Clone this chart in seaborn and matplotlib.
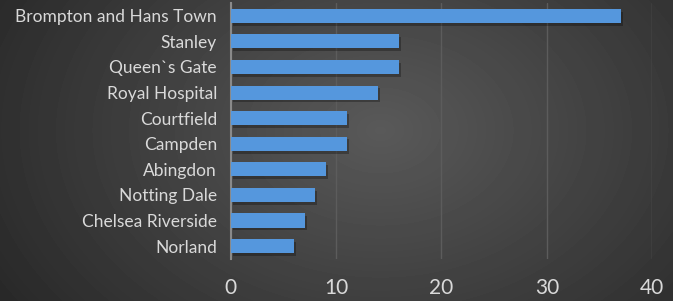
import numpy as np
import pandas as pd
import matplotlib
matplotlib.use("Agg")
import matplotlib.pyplot as plt
import matplotlib.patheffects as pe
import seaborn as sns

# Data
wards = ['Brompton and Hans Town', 'Stanley', 'Queen`s Gate', 'Royal Hospital',
         'Courtfield', 'Campden', 'Abingdon', 'Notting Dale', 'Chelsea Riverside', 'Norland']
counts = [37, 16, 16, 14, 11, 11, 9, 8, 7, 6]
x_ticks = [0, 10, 20, 30, 40]

data = pd.DataFrame({'Ward': wards, 'Count': counts})

sns.set_style("white")
plt.rcParams['font.family'] = ['Lato', 'DejaVu Sans']

fig = plt.figure(figsize=(6.73, 3.01), dpi=100)

# radial gradient background
bg = fig.add_axes([0, 0, 1, 1], zorder=0)
yy, xx = np.mgrid[0:301, 0:673]
r = np.sqrt(((xx - 380) / 420.0) ** 2 + ((yy - 130) / 300.0) ** 2)
shade = np.clip(0.35 - 0.18 * r, 0.15, 0.35)
bg.imshow(shade, cmap='gray', vmin=0, vmax=1, aspect='auto', extent=[0, 1, 0, 1])
bg.axis('off')

ax = fig.add_axes([0.343, 0.14, 0.626, 0.85], zorder=1)
ax.patch.set_alpha(0)

sns.barplot(x='Count', y='Ward', data=data, color='#5597dd', width=0.55,
            saturation=1, linewidth=0, edgecolor='none', ax=ax, zorder=3)
for p in ax.patches:
    p.set_linewidth(0)
    p.set_path_effects([pe.SimplePatchShadow(offset=(1.5, -2), shadow_rgbFace='black', alpha=0.28),
                        pe.Normal()])

ax.set_xlim(0, 40)
ax.set_xticks(x_ticks)
ax.grid(axis='x', color='#5c5c5c', linewidth=1)
ax.set_axisbelow(True)
for s in ['top', 'right', 'bottom']:
    ax.spines[s].set_visible(False)
ax.spines['left'].set_color('#8a8a8a')
ax.spines['left'].set_linewidth(1.5)
ax.set_xlabel('')
ax.set_ylabel('')
ax.tick_params(axis='x', colors='#d9d9d9', labelsize=15, length=0, pad=14)
ax.tick_params(axis='y', colors='#d9d9d9', labelsize=12.5, length=0, pad=10)

plt.savefig('out.png', dpi=100)
